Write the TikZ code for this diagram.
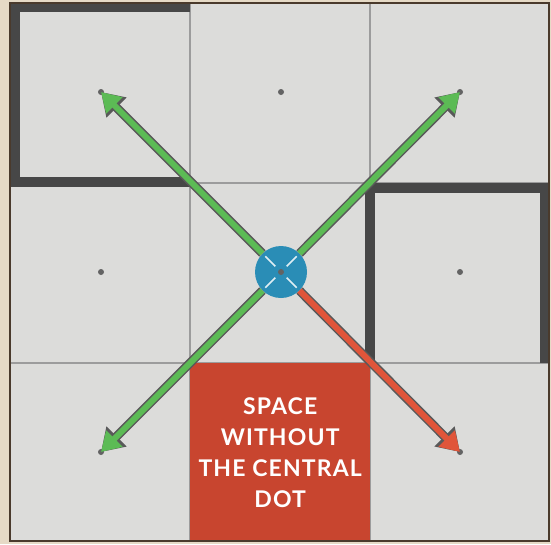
\documentclass[tikz,border=0pt]{standalone}
\usepackage{fontspec}
\setmainfont{Lato}
\usetikzlibrary{arrows.meta, positioning}

\definecolor{parchment}{HTML}{E6DAC6}
\definecolor{tilegray}{HTML}{DCDCDA}
\definecolor{gridgray}{HTML}{9C9C9C}
\definecolor{wallgray}{HTML}{474747}
\definecolor{rimbrown}{HTML}{4A3A2C}
\definecolor{spacered}{HTML}{C8452F}
\definecolor{hubblue}{HTML}{2A8DB6}
\definecolor{goodgreen}{HTML}{5CBB55}
\definecolor{badred}{HTML}{E0553A}

\begin{document}
\begin{tikzpicture}[
x=1pt, y=-1pt,
gridline/.style={draw=gridgray, line width=1.3pt},
wall/.style={fill=wallgray},
dot/.style={circle, fill=wallgray!85, inner sep=0pt, minimum size=6pt},
hub/.style={circle, fill=hubblue, inner sep=0pt, minimum size=52pt},
spacebox/.style={fill=spacered, text=white, align=center,
  font=\bfseries\fontsize{23}{31}\selectfont\addfontfeature{LetterSpace=5},
  minimum width=180pt, minimum height=178pt, inner sep=0pt, anchor=north west},
garrow/.style={line width=6pt, draw=goodgreen, -{Triangle[length=19pt, width=22pt]},
  preaction={draw=gray!70!black, line width=9pt, -{Triangle[length=22pt, width=27pt]}}},
rarrow/.style={line width=6pt, draw=badred, -{Triangle[length=19pt, width=22pt]},
  preaction={draw=gray!70!black, line width=9pt, -{Triangle[length=22pt, width=27pt]}}},
hubline/.style={draw=white!85!hubblue, line width=1.6pt, shorten <=8pt, shorten >=4pt}
]

\useasboundingbox (0,0) rectangle (551,544);
\fill[parchment] (0,0) rectangle (551,544);

% ---------- BOARD ----------

\fill[tilegray] (10,3) rectangle (549,541);

\foreach \x in {190,370}
  \draw[gridline] (\x,3) -- (\x,541);
\foreach \y in {183,363}
  \draw[gridline] (10,\y) -- (549,\y);

\node[spacebox] (space) at (190,363)
{SPACE\\
WITHOUT\\
THE CENTRAL\\
DOT};

% ---------- WALLS ----------

\fill[wall] (10,3) rectangle (190,12);
\fill[wall] (10,3) rectangle (20,187);
\fill[wall] (10,177) rectangle (190,187);

\fill[wall] (365,183) rectangle (549,193);
\fill[wall] (365,183) rectangle (375,363);
\fill[wall] (540,183) rectangle (549,363);

\draw[rimbrown, line width=1.5pt] (10,3) rectangle (549,541);

% ---------- DOTS ----------

\foreach \name/\x/\y in {topleft/101/92, topmid/281/92, topright/460/92,
                         midleft/101/272, midright/460/272,
                         botleft/101/452, botright/460/452}
  \node[dot] (\name) at (\x,\y) {};

\node[hub] (hub) at (281,272) {};

% ---------- ARROWS ----------

\draw[garrow] (hub) -- (topleft.center);
\draw[garrow] (hub) -- (topright.center);
\draw[garrow] (hub) -- (botleft.center);
\draw[rarrow] (hub) -- (botright.center);

\draw[hubline] (hub.center) -- (hub.north west);
\draw[hubline] (hub.center) -- (hub.north east);
\draw[hubline] (hub.center) -- (hub.south west);
\draw[hubline] (hub.center) -- (hub.south east);

\node[dot] (centre) at (hub.center) {};

\end{tikzpicture}
\end{document}
